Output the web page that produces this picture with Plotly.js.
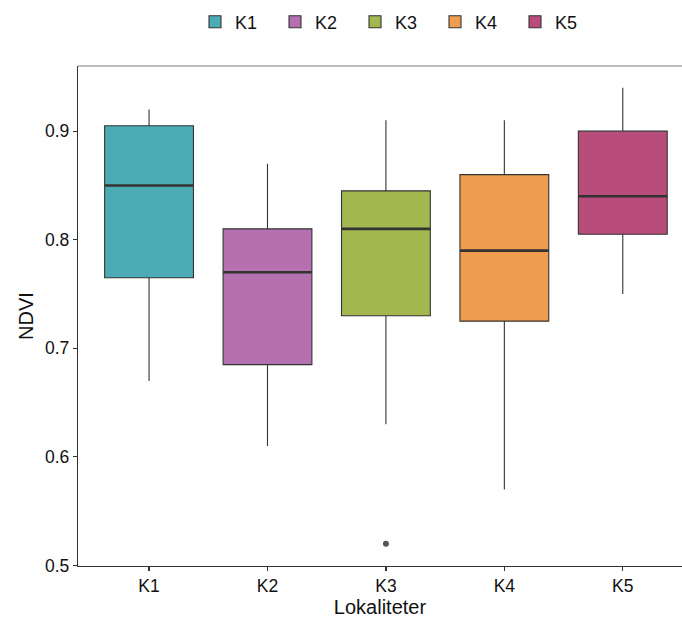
<!DOCTYPE html>
<html>
<head>
<meta charset="utf-8">
<script src="https://cdn.plot.ly/plotly-3.0.1.min.js"></script>
<style>html,body{margin:0;padding:0;background:#fff;}#chart{width:682px;height:621px;}</style>
</head>
<body>
<div id="chart"></div>
<script>
const categories = ["K1", "K2", "K3", "K4", "K5"];
const lowerWhisker = [0.67, 0.61, 0.63, 0.57, 0.75];
const q1Values = [0.765, 0.685, 0.73, 0.725, 0.805];
const medianValues = [0.85, 0.77, 0.81, 0.79, 0.84];
const q3Values = [0.905, 0.81, 0.845, 0.86, 0.90];
const upperWhisker = [0.92, 0.87, 0.91, 0.91, 0.94];
const outlierCategory = ["K3"];
const outlierValues = [0.52];
const colors = ["#4BACB5", "#B570AF", "#A3B74F", "#EE9D4F", "#B84C7A"];

const font = "Liberation Sans, Arial, sans-serif";
const boxWidth = 0.75;
const traces = [];
categories.forEach((c, i) => {
  traces.push({
    type: "box",
    name: c,
    x: [i],
    q1: [q1Values[i]],
    median: [medianValues[i]],
    q3: [q3Values[i]],
    lowerfence: [lowerWhisker[i]],
    upperfence: [upperWhisker[i]],
    width: boxWidth,
    whiskerwidth: 0,
    fillcolor: colors[i],
    line: {color: "#333333", width: 1.1},
    boxpoints: false,
    hoverinfo: "skip"
  });
});
// thick median lines
const mx = [], my = [];
categories.forEach((c, i) => {
  mx.push(i - boxWidth / 2, i + boxWidth / 2, null);
  my.push(medianValues[i], medianValues[i], null);
});
traces.push({type: "scatter", mode: "lines", x: mx, y: my, showlegend: false,
  line: {color: "#333333", width: 2.6}, hoverinfo: "skip"});
traces.push({type: "scatter", mode: "markers",
  x: outlierCategory.map(c => categories.indexOf(c)), y: outlierValues,
  showlegend: false, marker: {color: "#555555", size: 6}, hoverinfo: "skip"});

const layout = {
  width: 682, height: 621,
  margin: {l: 78, r: 0, t: 66, b: 54.5, autoexpand: false},
  paper_bgcolor: "#ffffff", plot_bgcolor: "#ffffff",
  font: {family: font, color: "#1a1a1a", size: 15},
  showlegend: true,
  legend: {orientation: "h", x: 195 / 682, xref: "container", xanchor: "left",
    y: 1 - 22 / 621, yref: "container", yanchor: "middle",
    font: {family: font, size: 18, color: "#111"}, entrywidth: 35, entrywidthmode: "pixels",
    traceorder: "normal"},
  xaxis: {
    range: [-0.6, 4.5],
    tickmode: "array", tickvals: categories.map((c, i) => i), ticktext: categories,
    showgrid: false, zeroline: false,
    showline: true, linecolor: "#333333", linewidth: 1.2,
    ticks: "outside", ticklen: 4, tickcolor: "#333333", tickwidth: 1.2,
    tickfont: {family: font, size: 17.5, color: "#111"},
    title: {text: "Lokaliteter", font: {family: font, size: 20, color: "#111"}, standoff: 4}
  },
  yaxis: {
    range: [0.4995, 0.96],
    tickvals: [0.5, 0.6, 0.7, 0.8, 0.9], ticktext: ["0.5", "0.6", "0.7", "0.8", "0.9"],
    showgrid: false, zeroline: false,
    showline: true, linecolor: "#333333", linewidth: 1.2,
    ticks: "outside", ticklen: 4, tickcolor: "#333333", tickwidth: 1.2,
    tickfont: {family: font, size: 17.5, color: "#111"},
    title: {text: "NDVI", font: {family: font, size: 20, color: "#111"}, standoff: 6}
  },
  shapes: [{type: "line", xref: "paper", yref: "paper", x0: 0, x1: 1, y0: 1, y1: 1,
    line: {color: "#aaaaaa", width: 1.5}}]
};
Plotly.newPlot("chart", traces, layout, {displayModeBar: false, staticPlot: true});
</script>
</body>
</html>
